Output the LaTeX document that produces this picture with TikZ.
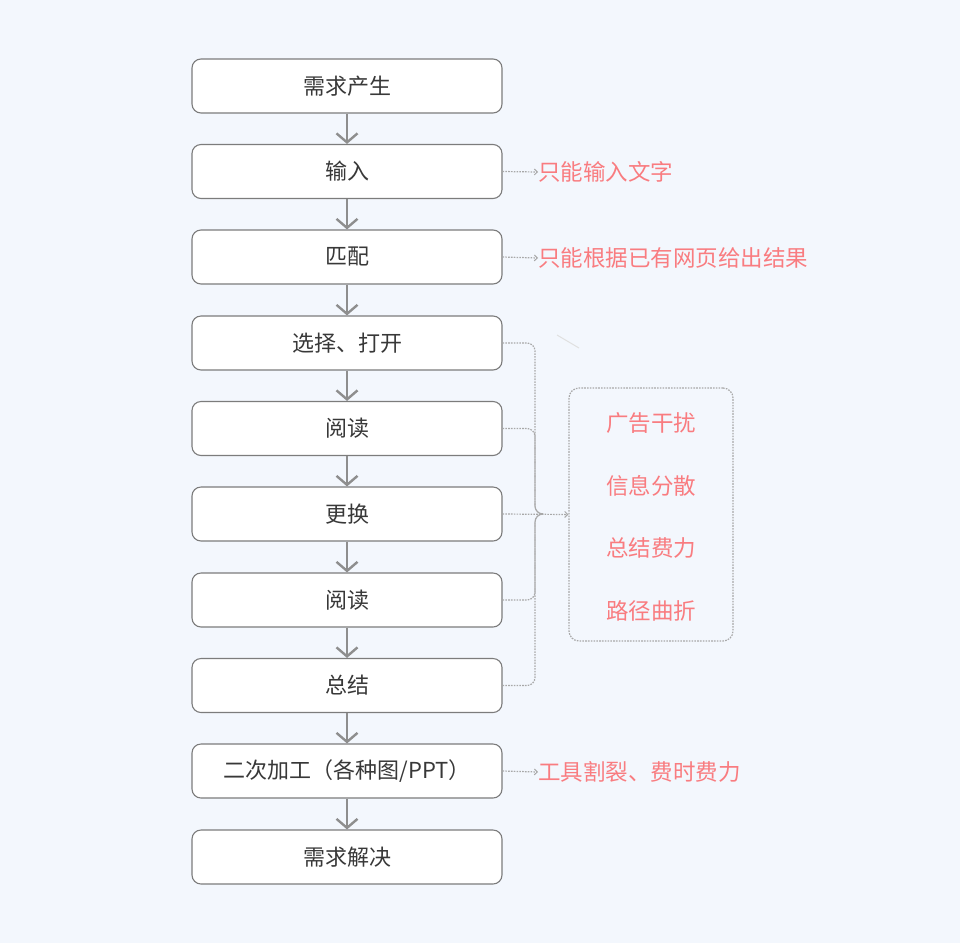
\documentclass[tikz,border=0pt]{standalone}
\usepackage{fontspec}
\setmainfont{Noto Sans CJK SC}
\usetikzlibrary{arrows.meta}
\definecolor{bg}{HTML}{F3F7FD}
\definecolor{boxline}{HTML}{7C7C7C}
\definecolor{arrowc}{HTML}{8E8E8E}
\definecolor{dotc}{HTML}{A8A8A8}
\definecolor{redtxt}{HTML}{F97C80}
\definecolor{txt}{HTML}{383838}
\tikzset{
  stepbox/.style={draw=boxline, line width=1.1pt, fill=white, rounded corners=9pt,
    minimum width=310pt, minimum height=54pt, inner sep=0pt,
    font=\fontsize{22}{24}\selectfont, text=txt},
  flow/.style={draw=arrowc, line width=2.8pt, -{Straight Barb[length=9pt,width=21pt,line width=2.4pt]}},
  dotline/.style={draw=dotc, line width=1.2pt, dash pattern=on 1.6pt off 1.2pt},
  dotarrow/.style={dotline, -{Straight Barb[length=3pt,width=6pt,line width=1pt,sep=0pt]}},
  redlabel/.style={font=\fontsize{22.5}{24}\selectfont, text=redtxt, inner sep=0pt},
}
\begin{document}
\begin{tikzpicture}[x=1pt,y=-1pt]
\fill[bg] (0,0) rectangle (960,943);
\useasboundingbox (0,0) rectangle (960,943);
\node[stepbox] (b1) at (347,86) {需求产生};
\node[stepbox] (b2) at (347,171.5) {输入};
\node[stepbox] (b3) at (347,257) {匹配};
\node[stepbox] (b4) at (347,343) {选择、打开};
\node[stepbox] (b5) at (347,428.5) {阅读};
\node[stepbox] (b6) at (347,514) {更换};
\node[stepbox] (b7) at (347,600) {阅读};
\node[stepbox] (b8) at (347,685.5) {总结};
\node[stepbox] (b9) at (347,771) {二次加工（各种图/PPT）};
\node[stepbox] (b10) at (347,857) {需求解决};
\foreach \a/\b in {b1/b2,b2/b3,b3/b4,b4/b5,b5/b6,b6/b7,b7/b8,b8/b9,b9/b10}
  \draw[flow] (\a.south) -- (\b.north);
% side labels
\node[redlabel, anchor=west] (l2) at (538,172) {只能输入文字};
\node[redlabel, anchor=west] (l3) at (538,258) {只能根据已有网页给出结果};
\node[redlabel, anchor=west] (l9) at (538,772) {工具割裂、费时费力};
\draw[dotarrow] (b2.east) -- (l2.west);
\draw[dotarrow] (b3.east) -- (l3.west);
\draw[dotarrow] (b9.east) -- (l9.west);
% problem box
\node[draw=dotc, line width=1.2pt, dash pattern=on 1.6pt off 1.2pt, rounded corners=10pt,
  minimum width=164pt, minimum height=253pt, inner sep=0pt] (pb) at (651,514.5) {};
\node[redlabel] (p1) at (651,423) {广告干扰};
\node[redlabel] (p2) at (651,486) {信息分散};
\node[redlabel] (p3) at (651,548) {总结费力};
\node[redlabel] (p4) at (651,611) {路径曲折};
\coordinate (j) at (535,514);
\coordinate (m) at (541,514);
\foreach \b in {b4,b5,b7,b8}
  \draw[dotline, rounded corners=8pt] (\b.east) -| (j) -- (m);
\draw[dotarrow] (b6.east) -- (pb.west);
% faint stray stroke
\draw[color=black!12, line width=1pt] (557,335) -- (579,348);
\end{tikzpicture}
\end{document}
